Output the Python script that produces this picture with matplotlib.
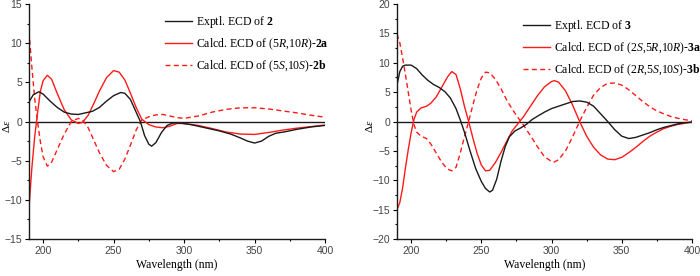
import numpy as np
import matplotlib
matplotlib.use("Agg")
import matplotlib.pyplot as plt

plt.rcParams["font.family"] = ["Liberation Serif", "DejaVu Serif"]
plt.rcParams["mathtext.fontset"] = "custom"
plt.rcParams["mathtext.rm"] = "Liberation Serif"
plt.rcParams["mathtext.it"] = "Liberation Serif:italic"
plt.rcParams["mathtext.bf"] = "Liberation Serif:bold"

# ---- panel 1 (compound 2) ----
wl_exp2 = [190, 193, 197, 200, 205, 210, 215, 220, 225, 230, 235, 240, 245, 250,
           255, 258, 262, 266, 269, 272, 275, 277, 280, 284, 288, 292, 297, 305,
           315, 325, 333, 340, 345, 350, 355, 360, 365, 372, 380, 390, 400]
exp2 = [2.5, 3.4, 3.8, 3.5, 2.6, 1.8, 1.2, 0.95, 0.9, 1.1, 1.3, 1.8, 2.6, 3.3,
        3.7, 3.6, 2.8, 1.2, 0.0, -1.8, -2.9, -3.15, -2.7, -1.4, -0.5, -0.2, -0.2, -0.4,
        -0.8, -1.2, -1.6, -2.1, -2.5, -2.75, -2.5, -1.9, -1.5, -1.3, -1.0, -0.7, -0.5]

wl_calc2 = [190, 192, 194, 196, 198, 200, 203, 206, 210, 215, 220, 225, 228, 232,
            236, 240, 245, 250, 254, 258, 262, 266, 270, 275, 280, 285, 290, 295,
            300, 310, 320, 330, 340, 350, 360, 370, 380, 390, 400]
calc2a = [-11, -6, -2, 1, 3.8, 5.2, 5.9, 5.4, 3.6, 1.5, 0.2, -0.25, -0.1, 0.8,
          2.3, 3.9, 5.6, 6.5, 6.3, 5.3, 3.6, 1.8, 0.3, -0.4, -0.7, -0.8, -0.6, -0.25,
          -0.25, -0.5, -0.9, -1.35, -1.6, -1.65, -1.4, -1.1, -0.85, -0.65, -0.45]
calc2b = [11.5, 7, 3, 0, -2.5, -4.5, -5.7, -5.2, -3.6, -1.6, 0.0, 0.4, 0.2, -0.8,
          -2.4, -4.0, -5.6, -6.4, -6.1, -4.8, -3.0, -1.1, 0.2, 0.6, 0.85, 0.9, 0.7, 0.5,
          0.4, 0.7, 1.2, 1.55, 1.75, 1.75, 1.6, 1.35, 1.1, 0.8, 0.55]

# ---- panel 2 (compound 3) ----
wl_exp3 = [190, 192, 194, 196, 200, 204, 208, 212, 216, 220, 224, 228, 232, 235,
           238, 242, 246, 250, 253, 256, 258, 261, 264, 267, 270, 274, 278, 282,
           286, 290, 295, 300, 305, 310, 315, 320, 325, 330, 335, 340, 345, 350,
           355, 360, 365, 370, 375, 380, 385, 390, 395, 400]
exp3 = [6.2, 8.5, 9.4, 9.6, 9.6, 9.0, 7.9, 7.0, 6.3, 5.8, 5.1, 4.0, 2.2, 0.3,
        -1.8, -5.0, -8.0, -10.2, -11.4, -12.0, -11.7, -9.8, -6.8, -4.3, -2.6, -1.6, -1.1, -0.5,
        0.3, 0.9, 1.6, 2.2, 2.6, 3.0, 3.4, 3.5, 3.3, 2.6, 1.3, 0.0, -1.4, -2.5,
        -2.9, -2.7, -2.3, -1.9, -1.4, -1.0, -0.7, -0.4, -0.2, -0.1]

wl_calc3 = [190, 192, 194, 196, 198, 200, 202, 204, 207, 211, 214, 218, 222, 226,
            229, 232, 235, 238, 241, 244, 247, 250, 253, 256, 260, 264, 268, 272,
            276, 280, 285, 290, 295, 300, 302, 305, 310, 315, 320, 325, 330, 335,
            340, 345, 350, 355, 360, 365, 370, 375, 380, 385, 390, 395, 400]
calc3a = [-15, -13.8, -11.3, -7.9, -4.8, -2.0, 0.3, 1.6, 2.3, 2.6, 3.1, 4.2, 5.9, 7.6,
          8.5, 8.0, 5.6, 2.6, 0.0, -2.8, -5.4, -7.4, -8.4, -8.3, -7.0, -5.3, -3.4, -1.6,
          -0.4, 0.8, 2.6, 4.4, 5.9, 6.8, 6.95, 6.7, 5.2, 2.8, 0.0, -2.5, -4.4, -5.7,
          -6.4, -6.5, -6.1, -5.3, -4.4, -3.4, -2.5, -1.8, -1.2, -0.8, -0.5, -0.3, -0.1]
calc3b = [14.9, 13.4, 10.8, 8.0, 5.0, 2.0, -0.5, -1.8, -2.5, -2.9, -3.8, -5.4, -7.0, -8.1,
          -8.4, -7.8, -5.4, -2.6, 0.0, 2.8, 5.4, 7.4, 8.4, 8.3, 7.2, 5.6, 3.7, 2.1,
          0.7, -0.6, -2.4, -4.3, -6.0, -6.8, -6.9, -6.5, -5.0, -2.6, 0.0, 2.4, 4.5, 5.8,
          6.5, 6.55, 6.2, 5.4, 4.4, 3.4, 2.5, 1.8, 1.3, 0.85, 0.55, 0.3, 0.15]

labels2 = ["Exptl. ECD of $\\bf{2}$",
           "Calcd. ECD of (5$\\it{R}$,10$\\it{R}$)-$\\bf{2a}$",
           "Calcd. ECD of (5$\\it{S}$,10$\\it{S}$)-$\\bf{2b}$"]
labels3 = ["Exptl. ECD of $\\bf{3}$",
           "Calcd. ECD of (2$\\it{S}$,5$\\it{R}$,10$\\it{R}$)-$\\bf{3a}$",
           "Calcd. ECD of (2$\\it{R}$,5$\\it{S}$,10$\\it{S}$)-$\\bf{3b}$"]

black = "#1a1a1a"
red = "#ff1a1a"
dash = (0, (3.6, 2.4))

fig = plt.figure(figsize=(7, 2.76), dpi=100)
ax1 = fig.add_axes([29 / 700, 37 / 276, 296 / 700, 235 / 276])
ax2 = fig.add_axes([397 / 700, 37 / 276, 295 / 700, 235 / 276])


def draw_panel(ax, wl_e, e, wl_c, ca, cb, labels, ylim, ymajor, label_x, leg_anchor):
    ax.axhline(0, color=black, linewidth=1.0, zorder=1)
    ax.plot(wl_e, e, color=black, linewidth=1.0, label=labels[0], zorder=3)
    ax.plot(wl_c, ca, color=red, linewidth=1.0, label=labels[1], zorder=2)
    ax.plot(wl_c, cb, color=red, linewidth=1.0, linestyle=dash, label=labels[2], zorder=2)

    ax.set_xlim(190, 400)
    ax.set_ylim(*ylim)
    ax.set_xticks([200, 250, 300, 350, 400])
    ax.set_xticks([225, 275, 325, 375], minor=True)
    ax.set_yticks(np.arange(ylim[0], ylim[1] + 0.1, ymajor))
    ax.set_yticks(np.arange(ylim[0], ylim[1] + 0.1, ymajor / 2), minor=True)
    for s in ["top", "right"]:
        ax.spines[s].set_visible(False)
    for s in ["left", "bottom"]:
        ax.spines[s].set_linewidth(1.0)
        ax.spines[s].set_color(black)
    ax.tick_params(which="major", direction="out", length=2.6, width=0.8,
                   labelsize=7.5, labelcolor="#444444", pad=2.5)
    ax.tick_params(which="minor", direction="out", length=1.4, width=0.8)
    for lab in ax.get_xticklabels() + ax.get_yticklabels():
        lab.set_fontfamily(["Liberation Sans", "DejaVu Sans"])

    ax.set_xlabel("Wavelength (nm)", fontsize=8.5, labelpad=2)
    ax.set_ylabel("Δ$\\it{ε}$", fontsize=8)
    ax.yaxis.set_label_coords(label_x, 0.48)

    ax.legend(loc="upper left", bbox_to_anchor=leg_anchor, frameon=False,
              fontsize=8.5, handlelength=2.3, handletextpad=0.3,
              labelspacing=0.55, borderaxespad=0, borderpad=0)


draw_panel(ax1, wl_exp2, exp2, wl_calc2, calc2a, calc2b, labels2,
           (-15, 15), 5, -0.056, ((165 - 29) / 296, 1 - 10 / 235))
draw_panel(ax2, wl_exp3, exp3, wl_calc3, calc3a, calc3b, labels3,
           (-20, 20), 5, -0.074, ((523 - 397) / 295, 1 - 14 / 235))

fig.savefig("out.png", dpi=100)
